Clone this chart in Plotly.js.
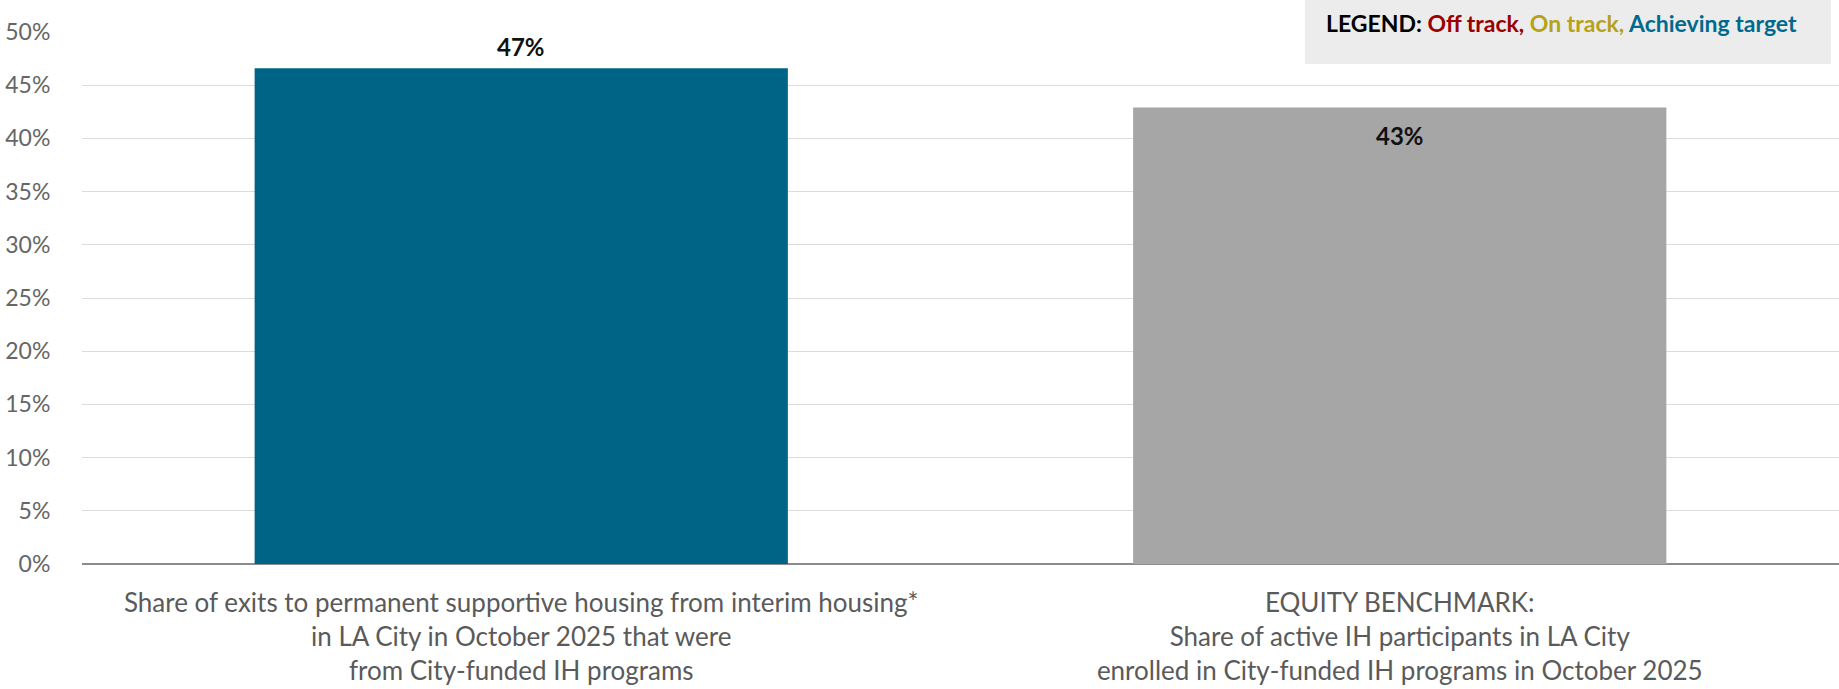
<!DOCTYPE html>
<html>
<head>
<meta charset="utf-8">
<script src="https://cdn.plot.ly/plotly-3.0.1.min.js"></script>
<style>html,body{margin:0;padding:0;background:#fff;}#chart{width:1839px;height:689px;}</style>
</head>
<body>
<div id="chart"></div>
<script>
const categories = [
  "Share of exits to permanent supportive housing from interim housing*<br>in LA City in October 2025 that were<br>from City-funded IH programs",
  "EQUITY BENCHMARK:<br>Share of active IH participants in LA City<br>enrolled in City-funded IH programs in October 2025"
];
const values = [46.6, 42.9];
const valueLabels = ["47%", "43%"];
const barColors = ["#006487", "#a6a6a6"];
const labelShifts = [22, -28];
const yTickVals = [0, 5, 10, 15, 20, 25, 30, 35, 40, 45, 50];
const yTickText = ["0%", "5%", "10%", "15%", "20%", "25%", "30%", "35%", "40%", "45%", "50%"];

const trace = {
  type: 'bar',
  x: categories,
  y: values,
  marker: {color: barColors},
  hoverinfo: 'skip'
};

const annotations = values.map((v, i) => ({
  x: categories[i], y: v, xref: 'x', yref: 'y',
  text: '<b>' + valueLabels[i] + '</b>', showarrow: false,
  yshift: labelShifts[i], yanchor: 'middle',
  font: {family: 'Lato, sans-serif', size: 24, color: '#111'}
}));

annotations.push({
  xref: 'paper', yref: 'paper', x: 0.7069, y: 1.017, xanchor: 'left', yanchor: 'middle',
  showarrow: false,
  text: "<b>LEGEND: <span style='color:#990000'>Off track,</span> <span style='color:#b5a21a'>On track,</span> <span style='color:#006a8e'>Achieving target</span></b>",
  font: {family: 'Lato, sans-serif', size: 23, color: '#000'}
});

const layout = {
  width: 1839, height: 689,
  margin: {l: 82, r: 0, t: 32, b: 125},
  paper_bgcolor: '#fff', plot_bgcolor: '#fff',
  showlegend: false,
  bargap: 0.393,
  xaxis: {
    type: 'category',
    showgrid: false, zeroline: false, showline: false,
    ticks: 'outside', ticklen: 16, tickcolor: 'rgba(0,0,0,0)',
    tickfont: {family: 'Lato, sans-serif', size: 26, color: '#5a5a5a'},
    fixedrange: true
  },
  yaxis: {
    range: [0, 50],
    tickvals: yTickVals, ticktext: yTickText,
    showgrid: true, gridcolor: '#dcdcdc', gridwidth: 1,
    zeroline: true, zerolinecolor: '#8c8c8c', zerolinewidth: 2,
    showline: false,
    ticks: 'outside', ticklen: 26, tickcolor: 'rgba(0,0,0,0)',
    tickfont: {family: 'Lato, sans-serif', size: 23, color: '#666'},
    fixedrange: true
  },
  shapes: [{
    type: 'rect', xref: 'paper', yref: 'paper', layer: 'above',
    x0: 0.696, x1: 0.9954, y0: 0.9398, y1: 1.07,
    fillcolor: '#ececec', line: {width: 0}
  }],
  annotations: annotations
};

Plotly.newPlot('chart', [trace], layout, {displayModeBar: false, staticPlot: true});
</script>
</body>
</html>
